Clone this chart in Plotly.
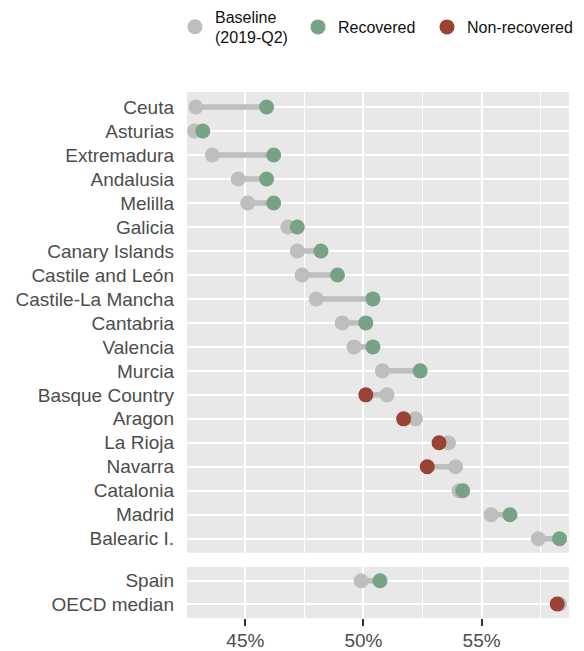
import plotly.graph_objects as go
from plotly.subplots import make_subplots

# ---- data (percent) ----
regions = ["Ceuta", "Asturias", "Extremadura", "Andalusia", "Melilla", "Galicia",
           "Canary Islands", "Castile and León", "Castile-La Mancha", "Cantabria",
           "Valencia", "Murcia", "Basque Country", "Aragon", "La Rioja", "Navarra",
           "Catalonia", "Madrid", "Balearic I."]
region_baseline = [42.9, 42.85, 43.6, 44.7, 45.1, 46.8, 47.2, 47.4, 48.0, 49.1,
                   49.6, 50.8, 51.0, 52.2, 53.6, 53.9, 54.05, 55.4, 57.4]
region_current = [45.9, 43.2, 46.2, 45.9, 46.2, 47.2, 48.2, 48.9, 50.4, 50.1,
                  50.4, 52.4, 50.1, 51.7, 53.2, 52.7, 54.2, 56.2, 58.3]

totals = ["Spain", "OECD median"]
total_baseline = [49.9, 58.3]
total_current = [50.7, 58.2]

GRAY = "#bebebe"
GREEN = "#78a286"
RED = "#9b4236"
TXT = "#4d4d4d"
FONT = "Liberation Sans, Arial, sans-serif"

fig = make_subplots(rows=2, cols=1, shared_xaxes=True,
                    row_heights=[0.9, 0.1], vertical_spacing=0.0266)


def add_panel(cats, base, cur, row, show_legend):
    lx, ly = [], []
    for c, b, v in zip(cats, base, cur):
        lx += [b, v, None]
        ly += [c, c, None]
    fig.add_trace(go.Scatter(x=lx, y=ly, mode="lines",
                             line=dict(color=GRAY, width=5.5),
                             showlegend=False, hoverinfo="skip"), row=row, col=1)
    fig.add_trace(go.Scatter(x=base, y=cats, mode="markers", name="Baseline<br>(2019-Q2)",
                             marker=dict(color=GRAY, size=15), legend="legend",
                             showlegend=show_legend), row=row, col=1)
    rec = [(c, v) for c, b, v in zip(cats, base, cur) if v >= b]
    non = [(c, v) for c, b, v in zip(cats, base, cur) if v < b]
    fig.add_trace(go.Scatter(x=[v for c, v in rec], y=[c for c, v in rec], mode="markers",
                             name="Recovered", marker=dict(color=GREEN, size=15),
                             legend="legend2", showlegend=show_legend), row=row, col=1)
    fig.add_trace(go.Scatter(x=[v for c, v in non], y=[c for c, v in non], mode="markers",
                             name="Non-recovered", marker=dict(color=RED, size=15),
                             legend="legend3", showlegend=show_legend), row=row, col=1)


add_panel(regions, region_baseline, region_current, 1, True)
add_panel(totals, total_baseline, total_current, 2, False)

xcommon = dict(range=[42.53, 58.7], dtick=5, tick0=45, ticksuffix="%",
               showgrid=True, gridcolor="white", gridwidth=2.4, zeroline=False,
               showline=False, automargin=False,
               minor=dict(dtick=2.5, tick0=42.5, showgrid=True, gridcolor="white",
                          gridwidth=1.2, ticks=""))
fig.update_xaxes(**xcommon)
fig.update_xaxes(showticklabels=False, ticks="", row=1, col=1)
fig.update_xaxes(ticks="outside", ticklen=7, tickwidth=2.4, tickcolor="#333333",
                 ticklabelstandoff=-2,
                 tickfont=dict(size=19, color=TXT, family=FONT), row=2, col=1)

ycommon = dict(type="category", showgrid=True, gridcolor="white", gridwidth=2.4,
               ticks="", tickfont=dict(size=19, color=TXT, family=FONT),
               ticklabelstandoff=12, zeroline=False, automargin=False)
fig.update_yaxes(**ycommon)
fig.update_yaxes(categoryorder="array", categoryarray=regions,
                 range=[18.586, -0.628], row=1, col=1)
fig.update_yaxes(categoryorder="array", categoryarray=totals,
                 range=[1.6, -0.596], row=2, col=1)

legbase = dict(orientation="h", xref="container", yref="container",
               xanchor="left", y=1 - 19 / 651, yanchor="middle",
               font=dict(size=16, color="#111111", family=FONT),
               itemwidth=30, valign="middle", bgcolor="rgba(0,0,0,0)")

fig.update_layout(
    width=584, height=651,
    margin=dict(l=179, r=23, t=84, b=41),
    plot_bgcolor="#e8e8e8", paper_bgcolor="white",
    font=dict(family=FONT, color="#1a1a1a"),
    hovermode=False,
    legend=dict(legbase, x=167 / 584),
    legend2=dict(legbase, x=290 / 584),
    legend3=dict(legbase, x=419 / 584),
)

fig.write_html("out.html")
